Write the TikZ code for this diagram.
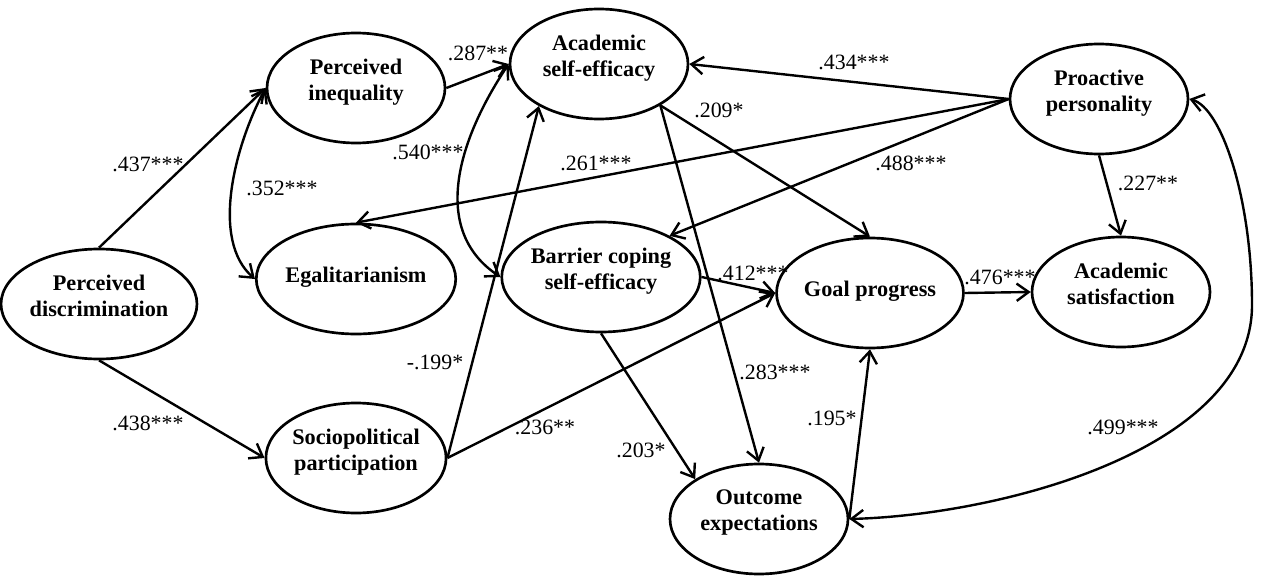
\documentclass[tikz,border=0pt]{standalone}
\usepackage{fontspec}
\setmainfont{Liberation Serif}
\usetikzlibrary{shapes.geometric,arrows.meta}
\begin{document}
\begin{tikzpicture}[x=0.75pt,y=-0.75pt,
  var/.style={ellipse,draw,line width=2pt,minimum width=133.5pt,minimum height=82.5pt,inner sep=0pt,align=center,font=\fontsize{16.7}{19.5}\selectfont\bfseries},
  two/.style={text depth=12.8pt},
  one/.style={text depth=6pt},
  tip/.style={},
  arr/.style={line width=1.8pt,-{Straight Barb[length=9pt,width=13pt]}},
  dbl/.style={line width=1.8pt,{Straight Barb[length=9pt,width=13pt]}-{Straight Barb[length=9pt,width=13pt]}},
  coef/.style={font=\fontsize{16.4}{19}\selectfont,inner sep=0pt}
]
\useasboundingbox (0,0) rectangle (1262,577);

\node[var,two] (pd) at (99,304) {Perceived\\discrimination};
\node[var,two] (pi) at (356,88) {Perceived\\inequality};
\node[var,one] (eg) at (356,279) {Egalitarianism};
\node[var,two] (sp) at (356,458) {Sociopolitical\\participation};
\node[var,two] (ase) at (599,64) {Academic\\self-efficacy};
\node[var,two] (bc) at (601,277) {Barrier coping\\self-efficacy};
\node[var,one] (gp) at (870,293) {Goal progress};
\node[var,two] (oe) at (759,519) {Outcome\\expectations};
\node[var,two] (pp) at (1099,99) {Proactive\\personality};
\node[var,two] (as) at (1121,292) {Academic\\satisfaction};
\coordinate (c1) at (1252,305);

\draw[arr] (pd.north) -- (pi.west);
\draw[arr] (pd.south) -- (sp.west);
\draw[dbl] (pi.west) .. controls (235,145) and (210,240) .. (eg.west);
\draw[arr] (pi.east) -- (ase.west);
\draw[dbl] (ase.west) .. controls (458,140) and (430,230) .. (bc.west);
\draw[arr] (sp.east) -- (ase.215);
\draw[arr] (sp.east) -- (gp.west);
\draw[arr] (bc.east) -- (gp.west);
\draw[arr] (bc.south) -- (oe.148);
\draw[arr] (ase.326) -- (oe.north);
\draw[arr] (ase.326) -- (gp.north);
\draw[arr] (pp.west) -- (ase.east);
\draw[arr] (pp.west) -- (eg.north);
\draw[arr] (pp.west) -- (bc.31);
\draw[arr] (pp.south) -- (as.north);
\draw[arr] (gp.east) -- (as.west);
\draw[arr] (oe.east) -- (gp.south);
\draw[dbl] (pp.east) .. controls (1222,108) and (1252,200) .. (c1) .. controls (1252,450) and (1000,515) .. (oe.east);

\node[coef] (l1) at (148,164) {.437***};
\node[coef] (l2) at (148,423) {.438***};
\node[coef] (l3) at (282,188) {.352***};
\node[coef] (l4) at (478,53) {.287**};
\node[coef] (l5) at (428,152) {.540***};
\node[coef] (l6) at (435,362) {-.199*};
\node[coef] (l7) at (545,427) {.236**};
\node[coef] (l8) at (641,450) {.203*};
\node[coef] (l9) at (775,372) {.283***};
\node[coef] (l10) at (832,418) {.195*};
\node[coef] (l11) at (753,273) {.412***};
\node[coef] (l12) at (719,110) {.209*};
\node[coef] (l13) at (854,62) {.434***};
\node[coef] (l14) at (596,163) {.261***};
\node[coef] (l15) at (911,163) {.488***};
\node[coef] (l16) at (1148,183) {.227**};
\node[coef] (l17) at (1000,277) {.476***};
\node[coef] (l18) at (1123,427) {.499***};
\end{tikzpicture}
\end{document}
